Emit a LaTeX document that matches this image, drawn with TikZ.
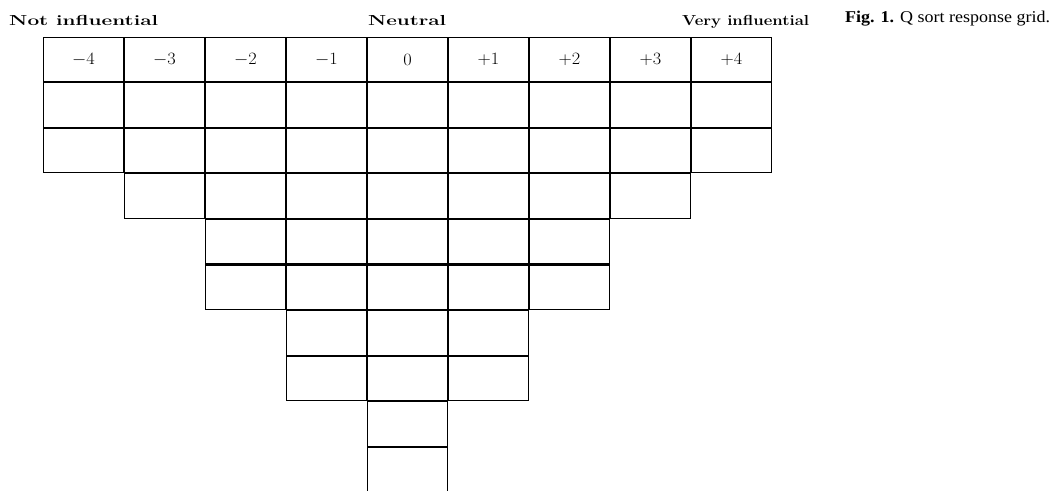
\documentclass[tikz,border=0pt]{standalone}
\usepackage{graphicx}
\usepackage{fontspec}
\newfontfamily\capfont{Liberation Serif}
\tikzset{
  cell/.style={draw=black, line width=1.1pt, minimum width=79.9pt, minimum height=44.5pt, inner sep=0pt, anchor=center},
  headcell/.style={cell, minimum height=43.4pt, font=\fontsize{17}{19}\selectfont},
  lbl/.style={anchor=base west, inner sep=0pt, font=\fontsize{14.5}{16}\selectfont\bfseries},
  caplbl/.style={anchor=base west, inner sep=0pt, font=\fontsize{16.5}{18}\selectfont\capfont}
}
\begin{document}
\begin{tikzpicture}[x=1pt, y=-1pt]
\useasboundingbox (0,0) rectangle (1054,490);
\clip (0,0) rectangle (1054,490);
\foreach \n/\lab [count=\i from 0] in {2/$-4$,3/$-3$,5/$-2$,7/$-1$,9/$0$,7/$+1$,5/$+2$,3/$+3$,2/$+4$}{
  \node[headcell] (h\i) at ({43+81*\i+40.5},59.5) {\scalebox{1.06}[1]{\lab}};
  \foreach \r in {1,...,\n}{
    \node[cell] (c\i-\r) at ({43+81*\i+40.5},{82+45.6*(\r-0.5)}) {};
  }
}
\node[lbl] (notinf) at (9,25.5) {\resizebox{149pt}{\height}{Not influential}};
\node[lbl] (neutral) at (368,25.5) {\resizebox{78pt}{\height}{Neutral}};
\node[lbl] (veryinf) at (682,25.5) {\resizebox{127pt}{\height}{Very influential}};
\node[caplbl] (cap) at (845,22) {\resizebox{205pt}{\height}{\textbf{Fig. 1.} Q sort response grid.}};
\end{tikzpicture}
\end{document}
